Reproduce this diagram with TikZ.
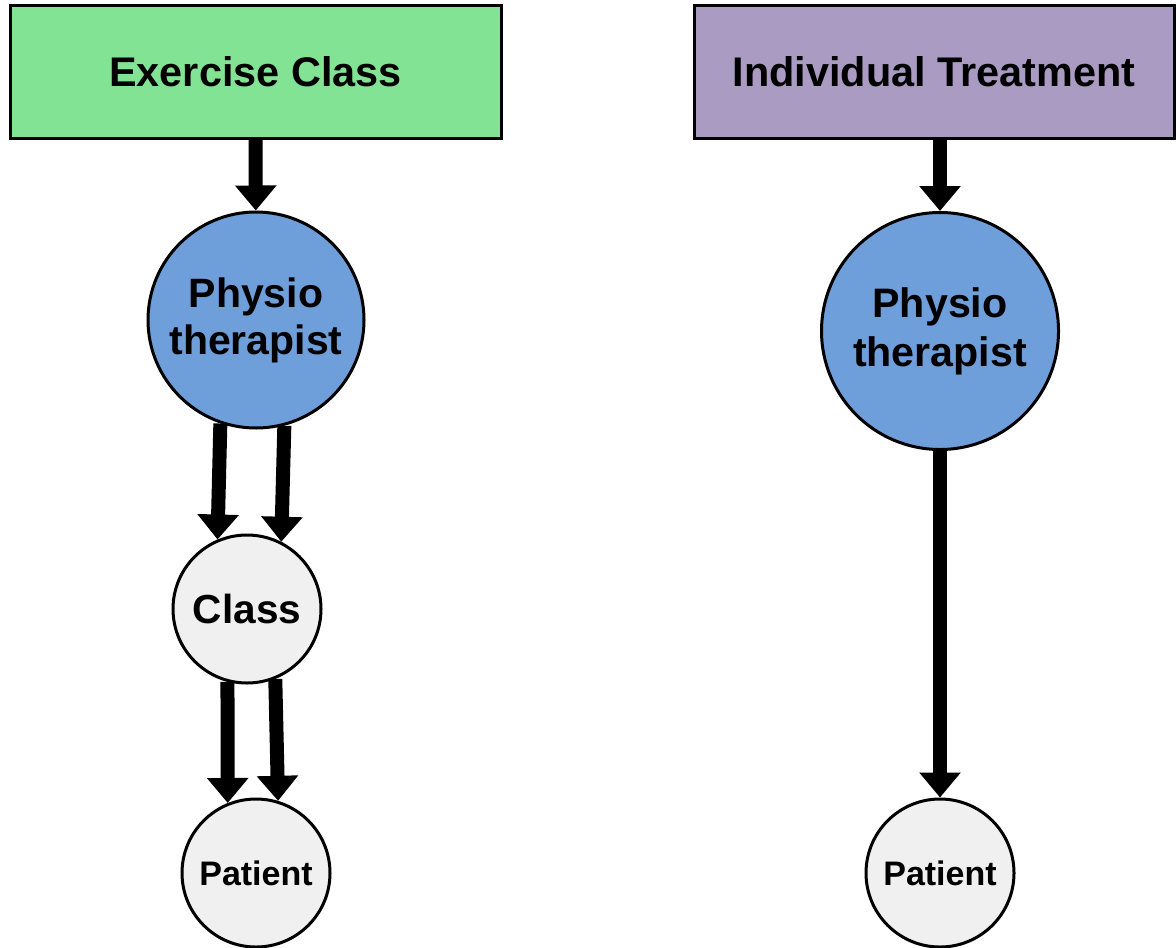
\documentclass[tikz,border=0pt]{standalone}
\usepackage{fontspec}
\setmainfont{Liberation Sans}
\usetikzlibrary{arrows.meta, positioning}
\definecolor{exgreen}{RGB}{130,227,148}
\definecolor{indpurple}{RGB}{169,155,193}
\definecolor{physblue}{RGB}{111,159,219}
\definecolor{pale}{RGB}{240,240,240}
\tikzset{
  head/.style={draw, line width=1.5pt, minimum height=66pt, inner sep=0pt, font=\bfseries\fontsize{20.7}{24}\selectfont},
  person/.style={draw, circle, line width=1.5pt, inner sep=0pt, align=center},
  flow/.style={line width=7pt, -{Triangle[width=20pt,length=12.5pt]}}
}
\begin{document}
\begin{tikzpicture}[x=0.5pt, y=-0.5pt]
\useasboundingbox (0,0) rectangle (1176,947);
\node[head, fill=exgreen, minimum width=245.5pt] (EC) at (255.5,72) {Exercise Class};
\node[head, fill=indpurple, minimum width=240pt] (IT) at (934,72) {Individual Treatment};
\node[person, fill=physblue, minimum size=108pt, font=\bfseries\fontsize{20.5}{23.5}\selectfont] (P1) at (256,320) {Physio\\therapist};
\node[person, fill=physblue, minimum size=118.5pt, font=\bfseries\fontsize{20.6}{24.5}\selectfont] (P2) at (940,331) {Physio\\therapist};
\node[person, fill=pale, minimum size=74pt, font=\bfseries\fontsize{20.3}{24}\selectfont] (C) at (247,609) {Class};
\node[person, fill=pale, minimum size=74pt, font=\bfseries\fontsize{17}{20}\selectfont] (Pt1) at (256,873) {Patient};
\node[person, fill=pale, minimum size=74pt, font=\bfseries\fontsize{17}{20}\selectfont] (Pt2) at (940,873) {Patient};
\draw[flow] (EC) -- (P1);
\draw[flow] (IT.south -| P2) -- (P2);
\draw[flow] (P1.251) -- (C.113);
\draw[flow] (P1.285) -- (C.63);
\draw[flow] (C.255) -- (Pt1.112);
\draw[flow] (C.292) -- (Pt1.73);
\draw[flow] (P2) -- (Pt2);
\end{tikzpicture}
\end{document}
